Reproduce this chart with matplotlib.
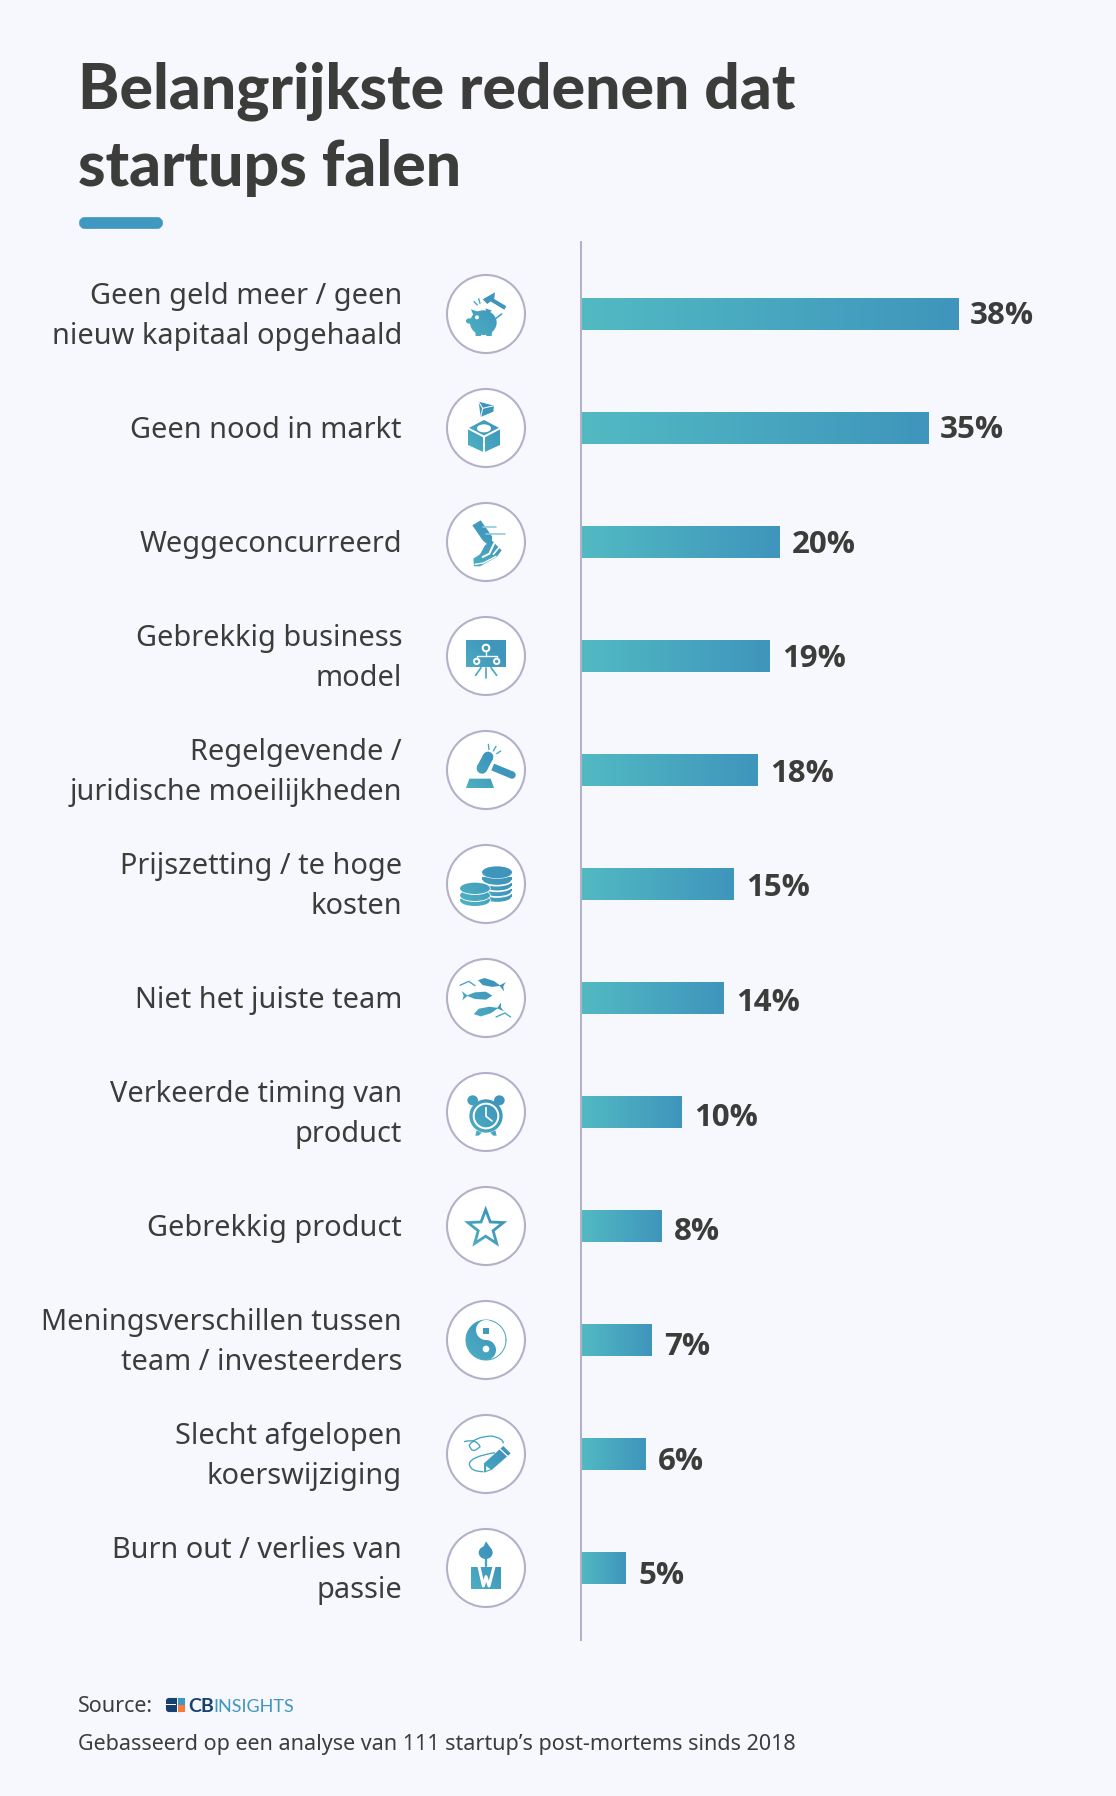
import numpy as np
import matplotlib
matplotlib.use("Agg")
import matplotlib.pyplot as plt
from matplotlib.colors import LinearSegmentedColormap
from matplotlib.patches import Polygon, Circle, Ellipse, Rectangle, Wedge, FancyBboxPatch, PathPatch
from matplotlib.path import Path

categories = [
    "Geen geld meer / geen\nnieuw kapitaal opgehaald",
    "Geen nood in markt",
    "Weggeconcurreerd",
    "Gebrekkig business\nmodel",
    "Regelgevende /\njuridische moeilijkheden",
    "Prijszetting / te hoge\nkosten",
    "Niet het juiste team",
    "Verkeerde timing van\nproduct",
    "Gebrekkig product",
    "Meningsverschillen tussen\nteam / investeerders",
    "Slecht afgelopen\nkoerswijziging",
    "Burn out / verlies van\npassie",
]
bar_lengths = [37.7, 34.7, 19.9, 18.9, 17.7, 15.3, 14.3, 10.1, 8.1, 7.1, 6.5, 4.5]
percent_labels = ["38%", "35%", "20%", "19%", "18%", "15%", "14%", "10%", "8%", "7%", "6%", "5%"]
title_lines = ["Belangrijkste redenen dat", "startups falen"]
source_label = "Source:"
footnote = "Gebasseerd op een analyse van 111 startup\u2019s post-mortems sinds 2018"

W, H = 1116, 1796
BG = "#F7F8FE"
INK = "#3C3C3B"
GREY = "#B2B1C9"
C0, C1 = "#52BAC3", "#3F95BC"
cmap = LinearSegmentedColormap.from_list("g", [C0, C1])
FONT = ["Noto Sans", "DejaVu Sans"]
BOLD = ["Open Sans", "DejaVu Sans"]
TITLE = ["Lato", "DejaVu Sans"]

fig = plt.figure(figsize=(W / 100, H / 100), dpi=100, facecolor=BG)
ov = fig.add_axes([0, 0, 1, 1], zorder=0)
ov.set_xlim(0, W); ov.set_ylim(H, 0); ov.axis("off")

TOP, BOT, LEFT = 242, 1640, 581
ROW0, PITCH = 314, 114
ax = fig.add_axes([LEFT / W, 1 - BOT / H, (W - LEFT) / W, (BOT - TOP) / H], zorder=1)
ax.patch.set_alpha(0)
ax.set_xlim(0, (W - LEFT) / 10)
ax.set_ylim((BOT - ROW0) / PITCH, (TOP - ROW0) / PITCH)
ax.set_xticks([]); ax.set_yticks([])
for s in ("top", "right", "bottom"):
    ax.spines[s].set_visible(False)
ax.spines["left"].set_color(GREY)
ax.spines["left"].set_linewidth(1.44)

ys = np.arange(len(bar_lengths))
bh = 32 / PITCH
bars = ax.barh(ys, bar_lengths, height=bh, color=C1, linewidth=0)
grad_h = np.linspace(0, 1, 128).reshape(1, -1)
for y, v, b, lab in zip(ys, bar_lengths, bars, percent_labels):
    im = ax.imshow(grad_h, extent=(0, v, y + bh / 2, y - bh / 2), cmap=cmap, vmin=0, vmax=1,
                   aspect="auto", zorder=2, interpolation="bilinear")
    im.set_clip_path(b)
    ax.annotate(lab, (v, y), xytext=(12 * 0.72, -(1.5 + 0.6 * y) * 0.72), textcoords="offset points",
                ha="left", va="center", fontsize=22.5, fontweight="bold", family=BOLD, color=INK)
ax.set_xlim(0, (W - LEFT) / 10)
ax.set_ylim((BOT - ROW0) / PITCH, (TOP - ROW0) / PITCH)

# title + rule
ov.text(78, 108, title_lines[0], fontsize=45, fontweight=900, family=TITLE, color=INK, va="baseline")
ov.text(78, 186, title_lines[1], fontsize=45, fontweight=900, family=TITLE, color=INK, va="baseline")
ov.add_patch(FancyBboxPatch((84, 222), 74, 2, boxstyle="round,pad=0,rounding_size=1", mutation_aspect=1,
                            fc="#3F98BF", ec="#3F98BF", lw=7))


def rowy(i):
    return ROW0 + PITCH * i


for i, cat in enumerate(categories):
    cy = rowy(i)
    parts = cat.split("\n")
    bases = [cy + 10] if len(parts) == 1 else [cy - 10, cy + 30]
    for p, b in zip(parts, bases):
        ov.text(402, b, p, ha="right", va="baseline", fontsize=20.8, family=FONT, color=INK)


# ---- icons: authored in 3x crop units around a centre
class Icon:
    def __init__(self, i, c):
        self.cx, self.cy = 486, rowy(i)
        self.c = c
        ov.add_patch(Circle((self.cx, self.cy), 39, fc="white", ec=GREY, lw=1.5, zorder=1))
        r = 30
        self.ext = (self.cx - r, self.cx + r, self.cy + r, self.cy - r)
        a = np.linspace(0, 1, 48)
        xx, yy = np.meshgrid(a, a)
        self.grad = np.clip((xx + (1 - yy)) / 1.3, 0, 1)
        self.z = 3

    def p(self, pt):
        return (self.cx + (pt[0] - self.c[0]) / 3, self.cy + (pt[1] - self.c[1]) / 3)

    def _paint(self, patch):
        patch.set_transform(ov.transData)
        im = ov.imshow(self.grad, extent=self.ext, cmap=cmap, vmin=0, vmax=1, aspect="auto",
                       zorder=self.z, interpolation="bilinear")
        im.set_clip_path(patch)
        self.z += 0.01

    def _white(self, patch):
        patch.set_zorder(self.z); self.z += 0.01
        ov.add_patch(patch)

    def poly(self, pts, white=False):
        q = Polygon([self.p(x) for x in pts], closed=True, fc="white", ec="none")
        self._white(q) if white else self._paint(q)

    def ell(self, c, w, h, white=False):
        q = Ellipse(self.p(c), w / 3, h / 3, fc="white", ec="none")
        self._white(q) if white else self._paint(q)

    def line(self, pts, w=4, white=False, color=None):
        xy = np.array([self.p(x) for x in pts])
        ov.plot(xy[:, 0], xy[:, 1], color=color or ("white" if white else "#45A6C0"),
                lw=w / 3 * 0.72, zorder=self.z, solid_capstyle="round", solid_joinstyle="round")
        self.z += 0.01

    def thick(self, a, b, w):
        a, b = np.array(a, float), np.array(b, float)
        n = np.array([-(b - a)[1], (b - a)[0]]); n = n / np.hypot(*n) * w / 2
        self.poly([a + n, b + n, b - n, a - n])

    def ring(self, c, r, w=6):
        q = Circle(self.p(c), r / 3, fc="none", ec="white", lw=w / 3 * 0.72)
        self._white(q)

    def curve(self, pts, w=5):
        v = [self.p(x) for x in pts]
        codes = [Path.MOVETO] + [Path.CURVE3] * (len(v) - 1)
        q = PathPatch(Path(v, codes), fc="none", ec="#45A6C0", lw=w / 3 * 0.72, zorder=self.z)
        self.z += 0.01
        ov.add_patch(q)


# piggy bank
k = Icon(0, (258, 222))
k.ell((250, 248), 80, 74); k.poly([(213, 208), (237, 216), (222, 230)]); k.poly([(256, 205), (276, 212), (262, 222)])
k.ell((208, 243), 20, 16); k.poly([(225, 268), (245, 268), (243, 288), (227, 288)]); k.poly([(257, 268), (277, 268), (275, 288), (259, 288)])
k.line([(288, 235), (305, 222)], 5); k.ell((231, 232), 12, 12, white=True)
k.poly([(248, 178), (285, 157), (283, 175), (262, 192)]); k.thick((268, 175), (316, 204), 12)
k.line([(222, 185), (232, 195)], 4); k.line([(236, 176), (240, 190)], 4)

# box
k = Icon(1, (258, 564))
k.poly([(252, 540), (300, 565), (300, 615), (252, 637), (204, 615), (204, 565)])
k.line([(252, 590), (252, 637)], 6, white=True); k.line([(204, 565), (252, 590), (300, 565)], 6, white=True)
k.ell((252, 565), 42, 24, white=True)
k.poly([(236, 485), (282, 497), (280, 515), (242, 531)]); k.line([(236, 485), (248, 505), (242, 531)], 3, white=True); k.line([(248, 505), (282, 497)], 3, white=True)

# shoe
k = Icon(2, (168, 155))
k.poly([(127, 105), (152, 90), (186, 138), (186, 152), (172, 162), (158, 150)])
k.poly([(130, 205), (150, 192), (165, 165), (185, 150), (215, 180), (200, 200), (150, 228), (132, 228)])
k.line([(158, 200), (178, 190), (192, 160)], 6, white=True); k.line([(190, 192), (208, 170)], 5, white=True)
k.line([(135, 222), (160, 218), (198, 198)], 4, white=True)
k.line([(160, 110), (198, 110)], 5, color="#8FCBDD"); k.line([(168, 132), (225, 132)], 5, color="#8FCBDD")

# presentation board
k = Icon(3, (168, 497))
k.poly([(108, 450), (228, 450), (228, 530), (108, 530)])
k.ring((168, 473), 10); k.line([(168, 483), (168, 497)], 4, white=True); k.line([(140, 505), (140, 497), (200, 497), (200, 505)], 4, white=True)
k.ring((140, 513), 8); k.ring((200, 513), 8)
k.line([(153, 532), (137, 555)], 5); k.line([(168, 532), (168, 562)], 5); k.line([(183, 532), (200, 555)], 5)

# gavel
k = Icon(4, (198, 209))
k.poly([(138, 263), (148, 235), (212, 235), (222, 263)])
k.thick((204, 170), (186, 204), 32); k.ell((204, 170), 32, 32); k.ell((186, 204), 32, 32)
k.thick((218, 200), (276, 224), 22); k.ell((276, 224), 22, 22)
k.line([(205, 132), (207, 148)], 4); k.line([(228, 138), (220, 152)], 4); k.line([(242, 152), (230, 160)], 4)

# coins
k = Icon(5, (198, 551))
for yy in [590, 573, 556, 539, 516]:
    k.ell((231, yy), 90, 34); k._white(Ellipse(k.p((231, yy)), 90 / 3, 34 / 3, fc="none", ec="white", lw=1.2))
    if yy != 516:
        k.poly([(186, yy - 8), (276, yy - 8), (276, yy), (186, yy)])
k.ell((231, 516), 90, 36)
for yy in [600, 585, 564]:
    k._white(Ellipse(k.p((165, yy)), 94 / 3, 40 / 3, fc="white", ec="none"))
    k.ell((165, yy), 90, 34)

# fishes
k = Icon(6, (198, 893))
def fish(k, c, L, H, ang, tail):
    a = np.deg2rad(ang)
    u = np.array([np.cos(a), np.sin(a)]) * tail
    n = np.array([-u[1], u[0]])
    c = np.array(c, float)
    k.poly([c - u * L / 2, c - u * L / 4 + n * H / 2, c + u * L / 6 + n * H / 2.4, c + u * L / 2,
            c + u * L / 6 - n * H / 2.4, c - u * L / 4 - n * H / 2])
    e = c + u * L / 2
    k.poly([e - u * 4, e + u * 14 + n * 14, e + u * 8, e + u * 12 - n * 14])
fish(k, (208, 848), 70, 22, 14, 1); fish(k, (178, 886), 78, 24, 0, -1); fish(k, (198, 932), 76, 24, -14, 1)
k.line([(120, 855), (146, 843), (165, 856)], 4); k.line([(228, 950), (255, 938), (272, 950)], 4)

# clock
k = Icon(7, (198, 1235))
k.ell((158, 1200), 32, 30); k.ell((238, 1200), 32, 30)
k.ell((198, 1247), 100, 100)
k.poly([(170, 1290), (185, 1297), (176, 1306), (166, 1306)]); k.poly([(226, 1290), (211, 1297), (220, 1306), (230, 1306)])
k.ring((198, 1247), 37, 6); k.line([(198, 1222), (198, 1248), (216, 1262)], 5, white=True)

# star
k = Icon(8, (198, 228))
ang = np.deg2rad(-90 + 36 * np.arange(10))
def star(R):
    r = np.where(np.arange(10) % 2 == 0, R, R * 0.42)
    return list(zip(197 + r * np.cos(ang), 235 + r * np.sin(ang)))
k.poly(star(68)); k.poly(star(44), white=True)

# yin yang
k = Icon(9, (198, 570))
k.line([(198 + 60 * np.cos(t), 570 + 60 * np.sin(t)) for t in np.linspace(0, 2 * np.pi, 80)], 3)
k._paint(Wedge((k.cx, k.cy), 20, 90, 270))
k.ell((198, 540), 60, 60, white=True); k.ell((198, 600), 60, 60)
k.poly([(189, 533), (207, 533), (207, 552), (189, 552)]); k.ell((198, 597), 20, 20, white=True)

# pencil
k = Icon(10, (198, 912))
k.curve([(132, 875), (170, 865), (180, 890), (155, 915), (148, 885), (165, 860), (215, 858), (250, 865), (250, 880)], 4)
k.curve([(225, 908), (150, 920), (148, 942), (150, 965), (190, 965)], 4)
k.poly([(192, 968), (192, 940), (250, 888), (272, 910), (215, 960)])
k.line([(240, 897), (262, 918)], 4, white=True); k.poly([(198, 962), (199, 948), (212, 958)], white=True)

# candle
k = Icon(11, (198, 1254))
k.poly([(153, 1252), (243, 1252), (243, 1318), (153, 1318)])
k.line([(177, 1250), (190, 1308), (198, 1280), (207, 1308), (222, 1250)], 9, white=True)
k.line([(198, 1225), (198, 1248)], 7)
k.ell((197, 1208), 42, 38); k.poly([(188, 1195), (198, 1174), (216, 1200)])

# footer
ov.text(78, 1712, source_label, fontsize=15.5, family=FONT, color=INK, va="baseline")
ov.text(78, 1750, footnote, fontsize=15.5, family=FONT, color=INK, va="baseline")
ov.add_patch(FancyBboxPatch((167, 1699), 17, 12, boxstyle="round,pad=0,rounding_size=2", fc="#17406F", ec="#17406F", lw=1.5))
ov.add_patch(Rectangle((165, 1703.5), 11, 1.4, fc=BG, ec="none", zorder=2))
ov.add_patch(Rectangle((177, 1698), 1.2, 15, fc=BG, ec="none", zorder=2))
ov.add_patch(Rectangle((178.2, 1698), 7, 7, fc="#3F98BF", ec="none", zorder=2))
ov.add_patch(Rectangle((178.2, 1705), 7, 7, fc="#F47B3A", ec="none", zorder=2))
ov.text(188.5, 1712, "CB", fontsize=14, fontweight="bold", family=["Lato", "DejaVu Sans"], color="#17406F", va="baseline")
ov.text(213, 1712, "INSIGHTS", fontsize=13, fontweight="normal", family=["Lato", "DejaVu Sans"], color="#3F98BF", va="baseline")

ov.set_xlim(0, W); ov.set_ylim(H, 0)
fig.savefig("out.png", dpi=100, facecolor=BG)
